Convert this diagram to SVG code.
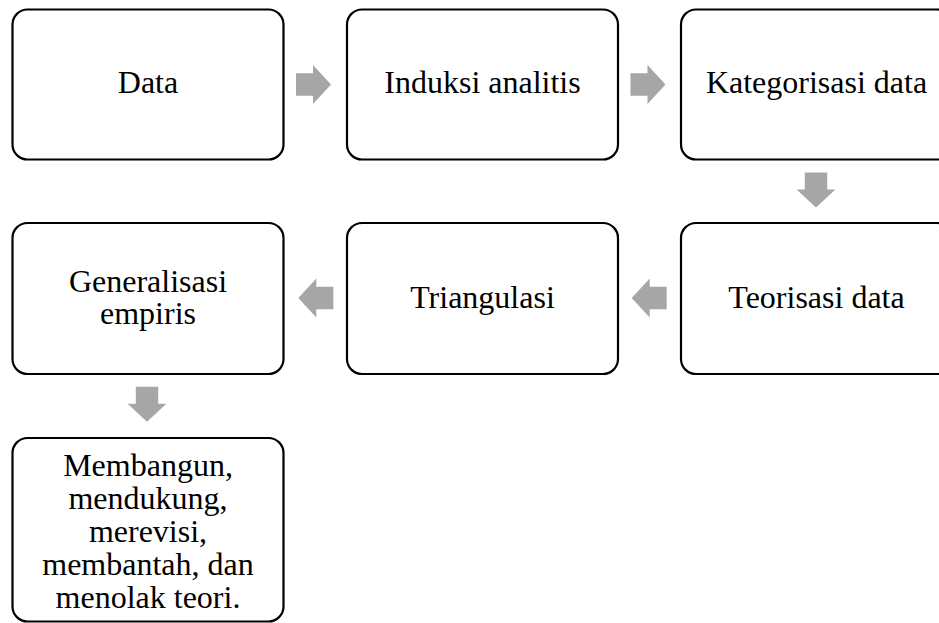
<svg xmlns="http://www.w3.org/2000/svg" xmlns:xlink="http://www.w3.org/1999/xlink" width="939" height="623" viewBox="0 0 939 623">
<style>
  .box { fill: #ffffff; stroke: #000000; stroke-width: 2.2; }
  .lbl { font-size: 32px; fill: #000000; text-anchor: middle; }
  .arr { fill: #a6a6a6; }
</style>
<defs>
  <polygon id="arrow" points="0,-11.2 17,-11.2 17,-19.4 35,0 17,19.4 17,11.2 0,11.2"/>
</defs>
<rect width="939" height="623" fill="#ffffff"/>
<g id="connectors" class="arr">
  <use xlink:href="#arrow" transform="translate(296,84.5)"/>
  <use xlink:href="#arrow" transform="translate(630.5,84.5)"/>
  <use xlink:href="#arrow" transform="translate(816,172.5) rotate(90)"/>
  <use xlink:href="#arrow" transform="translate(666.7,298) rotate(180)"/>
  <use xlink:href="#arrow" transform="translate(333.3,298) rotate(180)"/>
  <use xlink:href="#arrow" transform="translate(147,386.7) rotate(90)"/>
</g>
<g font-family="Liberation Serif, Tinos, Times New Roman, serif">
<g id="node-data">
  <rect class="box" x="12.5" y="9.5" width="271" height="150" rx="15" ry="15"/>
  <text class="lbl" x="148" y="93.3">Data</text>
</g>
<g id="node-induksi">
  <rect class="box" x="347" y="9.5" width="271" height="150" rx="15" ry="15"/>
  <text class="lbl" x="482.5" y="93.3">Induksi analitis</text>
</g>
<g id="node-kategorisasi">
  <rect class="box" x="681" y="9.5" width="271" height="150" rx="15" ry="15"/>
  <text class="lbl" x="816.5" y="93.3">Kategorisasi data</text>
</g>
<g id="node-teorisasi">
  <rect class="box" x="681" y="223" width="271" height="151" rx="15" ry="15"/>
  <text class="lbl" x="816.5" y="307.5">Teorisasi data</text>
</g>
<g id="node-triangulasi">
  <rect class="box" x="347" y="223" width="271" height="151" rx="15" ry="15"/>
  <text class="lbl" x="482.5" y="307.5">Triangulasi</text>
</g>
<g id="node-generalisasi">
  <rect class="box" x="12.5" y="223" width="271" height="151" rx="15" ry="15"/>
  <text class="lbl" x="148" y="291.5">Generalisasi</text>
  <text class="lbl" x="148" y="324">empiris</text>
</g>
<g id="node-membangun">
  <rect class="box" x="12.5" y="438" width="271" height="183.5" rx="15" ry="15"/>
  <text class="lbl" x="148" y="476">Membangun,</text>
  <text class="lbl" x="148" y="509">mendukung,</text>
  <text class="lbl" x="148" y="542">merevisi,</text>
  <text class="lbl" x="148" y="575">membantah, dan</text>
  <text class="lbl" x="148" y="608">menolak teori.</text>
</g>
</g>
</svg>
